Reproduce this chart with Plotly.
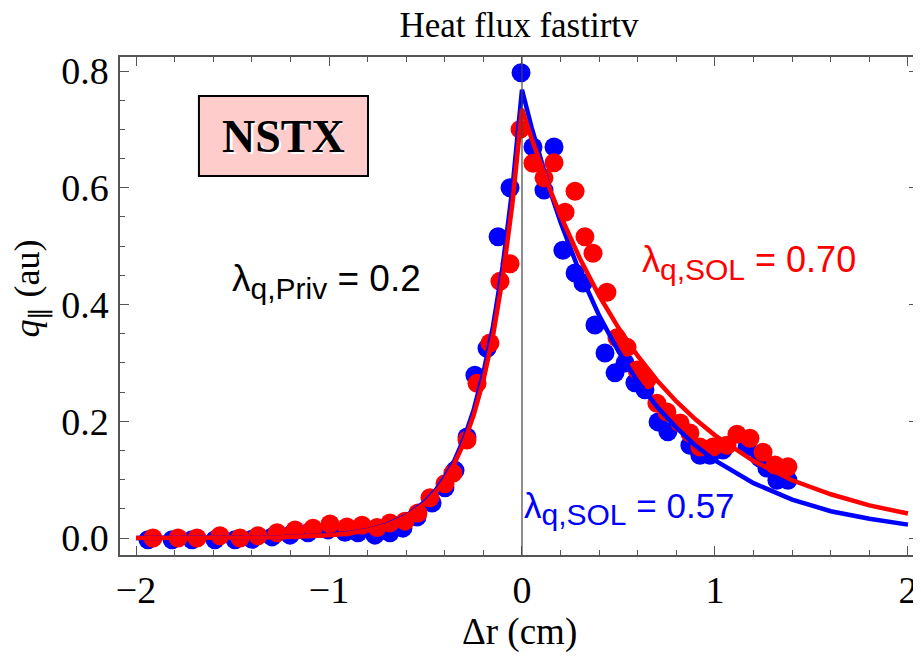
import plotly.graph_objects as go

blue_x = [-1.938, -1.813, -1.710, -1.591, -1.487, -1.399, -1.295, -1.202, -1.109, -1.005,
          -0.917, -0.850, -0.762, -0.684, -0.617, -0.544, -0.466, -0.399, -0.347, -0.285,
          -0.244, -0.181, -0.124, -0.062, -0.005, 0.057, 0.114, 0.166, 0.212, 0.275,
          0.316, 0.378, 0.430, 0.482, 0.534, 0.585, 0.637, 0.705, 0.756, 0.870,
          0.922, 0.974, 1.041, 1.166, 1.233, 1.269, 1.321, 1.378]
blue_q = [-0.003, -0.003, -0.003, -0.003, -0.003, -0.002, 0.002, 0.005, 0.009, 0.014,
          0.010, 0.009, 0.005, 0.009, 0.017, 0.036, 0.060, 0.086, 0.116, 0.173,
          0.279, 0.325, 0.516, 0.600, 0.797, 0.670, 0.596, 0.670, 0.493, 0.454,
          0.437, 0.365, 0.317, 0.283, 0.300, 0.266, 0.254, 0.199, 0.182, 0.159,
          0.142, 0.142, 0.151, 0.156, 0.137, 0.120, 0.099, 0.099]

red_x = [-1.912, -1.782, -1.684, -1.565, -1.461, -1.368, -1.269, -1.176, -1.083, -0.995,
         -0.907, -0.829, -0.751, -0.684, -0.606, -0.539, -0.477, -0.399, -0.358, -0.285,
         -0.233, -0.166, -0.114, -0.062, -0.010, 0.057, 0.114, 0.166, 0.223, 0.275,
         0.326, 0.368, 0.440, 0.492, 0.544, 0.596, 0.648, 0.699, 0.751, 0.819,
         0.870, 0.922, 0.990, 1.062, 1.114, 1.181, 1.249, 1.311, 1.378]
red_q = [0.000, 0.000, 0.000, 0.004, 0.000, 0.004, 0.009, 0.014, 0.017, 0.024,
         0.019, 0.022, 0.018, 0.026, 0.029, 0.043, 0.069, 0.093, 0.111, 0.168,
         0.265, 0.334, 0.440, 0.470, 0.700, 0.642, 0.617, 0.643, 0.558, 0.594,
         0.516, 0.488, 0.421, 0.343, 0.327, 0.288, 0.271, 0.231, 0.216, 0.197,
         0.180, 0.156, 0.156, 0.159, 0.178, 0.171, 0.147, 0.125, 0.122]

# ---- fitted curves ----
fit_x = [-2.0, -1.75, -1.5, -1.25, -1.0, -0.9, -0.8, -0.7, -0.6, -0.5, -0.45, -0.4,
         -0.35, -0.3, -0.25, -0.2, -0.15, -0.1, -0.05, 0.0, 0.05, 0.1, 0.15, 0.2,
         0.3, 0.4, 0.5, 0.6, 0.7, 0.8, 0.9, 1.0, 1.2, 1.4, 1.6, 1.8, 2.0]
fit_blue = [0.000, 0.000, 0.000, 0.0015, 0.005, 0.0085, 0.014, 0.023, 0.038, 0.063, 0.081, 0.104,
            0.133, 0.171, 0.220, 0.283, 0.363, 0.466, 0.598, 0.768, 0.703, 0.644, 0.590, 0.541,
            0.454, 0.381, 0.320, 0.268, 0.225, 0.189, 0.158, 0.133, 0.094, 0.066, 0.046, 0.033, 0.023]
fit_red = [0.000, 0.000, 0.000, 0.0014, 0.005, 0.008, 0.0135, 0.022, 0.037, 0.060, 0.0775, 0.0995,
           0.128, 0.164, 0.211, 0.270, 0.347, 0.446, 0.572, 0.735, 0.684, 0.637, 0.593, 0.552,
           0.479, 0.415, 0.360, 0.312, 0.270, 0.234, 0.203, 0.176, 0.132, 0.099, 0.075, 0.056, 0.042]

x_ticks = [-2, -1, 0, 1, 2]
y_ticks = [0.0, 0.2, 0.4, 0.6, 0.8]
y_tick_text = ["0.0", "0.2", "0.4", "0.6", "0.8"]

BLUE = "#0000FF"
RED = "#FF0000"
SERIF = "Liberation Serif"
SANS = "Liberation Sans"

# page body has an 8px margin; figure is sized to fit inside the 921x659 window
FIG_W, FIG_H = 913, 651

fig = go.Figure()
fig.add_trace(go.Scatter(x=blue_x, y=blue_q, mode="markers",
                         marker=dict(color=BLUE, size=19, line=dict(width=0)), showlegend=False))
fig.add_trace(go.Scatter(x=red_x, y=red_q, mode="markers",
                         marker=dict(color=RED, size=19, line=dict(width=0)), showlegend=False))
fig.add_trace(go.Scatter(x=fit_x, y=fit_blue, mode="lines",
                         line=dict(color=BLUE, width=4.5), showlegend=False))
fig.add_trace(go.Scatter(x=fit_x, y=fit_red, mode="lines",
                         line=dict(color=RED, width=4.5), showlegend=False))

axis_common = dict(showline=True, linecolor="#555555", linewidth=1.5, mirror="allticks",
                   ticks="inside", ticklen=9, tickwidth=1.2, tickcolor="#555555",
                   showgrid=False, zeroline=False, automargin=False,
                   tickfont=dict(family=SERIF, size=38, color="black"))

fig.update_xaxes(range=[-2.083, 2.052], tickvals=x_ticks,
                 minor=dict(ticks="inside", dtick=0.2, tick0=0, ticklen=5, tickcolor="#555555", showgrid=False),
                 ticklabelstandoff=1, **axis_common)
fig.update_yaxes(range=[-0.029, 0.824], tickvals=y_ticks, ticktext=y_tick_text,
                 minor=dict(ticks="inside", dtick=0.05, tick0=0, ticklen=5, tickcolor="#555555", showgrid=False),
                 ticklabelstandoff=2, **axis_common)

shapes = [
    dict(type="line", xref="x", yref="paper", x0=0, x1=0, y0=0, y1=1,
         line=dict(color="#444444", width=1.2), layer="above"),
    dict(type="rect", xref="x", yref="y", x0=-1.674, x1=-0.798, y0=0.620, y1=0.757,
         fillcolor="#FFCCCC", line=dict(color="black", width=2), layer="above"),
]

SUB = '<sub><span style="font-size:30px">{}</span></sub>'

annotations = [
    dict(text="NSTX", x=-1.236, y=0.6885, xref="x", yref="y", showarrow=False,
         xshift=2, yshift=-2, font=dict(family=SERIF, size=46, color="white")),
    dict(text="<b>NSTX</b>", x=-1.236, y=0.6885, xref="x", yref="y", showarrow=False,
         font=dict(family=SERIF, size=46, color="black")),
    dict(text="λ" + SUB.format("q,Priv") + " = 0.2", x=-1.513, y=0.44, xref="x", yref="y",
         xanchor="left", yanchor="middle", showarrow=False,
         font=dict(family=SANS, size=37, color="black")),
    dict(text="λ" + SUB.format("q,SOL") + " = 0.70", x=0.611, y=0.472, xref="x", yref="y",
         xanchor="left", yanchor="middle", showarrow=False,
         font=dict(family=SANS, size=36, color=RED)),
    dict(text="λ" + SUB.format("q,SOL") + " = 0.57", x=0.0, y=0.05, xref="x", yref="y",
         xanchor="left", yanchor="middle", showarrow=False,
         font=dict(family=SANS, size=35, color=BLUE)),
    dict(text="Δr (cm)", x=0.5, y=-0.1546, xref="paper", yref="paper",
         xanchor="center", yanchor="middle", showarrow=False,
         font=dict(family=SERIF, size=37, color="black")),
    dict(text="<i>q</i><sub>∥</sub> (au)", x=-0.1128, y=0.535, xref="paper", yref="paper",
         xanchor="center", yanchor="middle", showarrow=False, textangle=-90,
         font=dict(family=SERIF, size=36, color="black")),
]

fig.update_layout(
    width=FIG_W, height=FIG_H,
    margin=dict(l=112, r=3, t=49, b=104),
    paper_bgcolor="white", plot_bgcolor="white",
    title=dict(text="Heat flux fastirtv", x=0.5, xref="paper", xanchor="center",
               y=1 - 17 / FIG_H, yref="container", yanchor="middle",
               font=dict(family=SERIF, size=35, color="black")),
    shapes=shapes, annotations=annotations, showlegend=False,
)

fig.write_html("out.html")
